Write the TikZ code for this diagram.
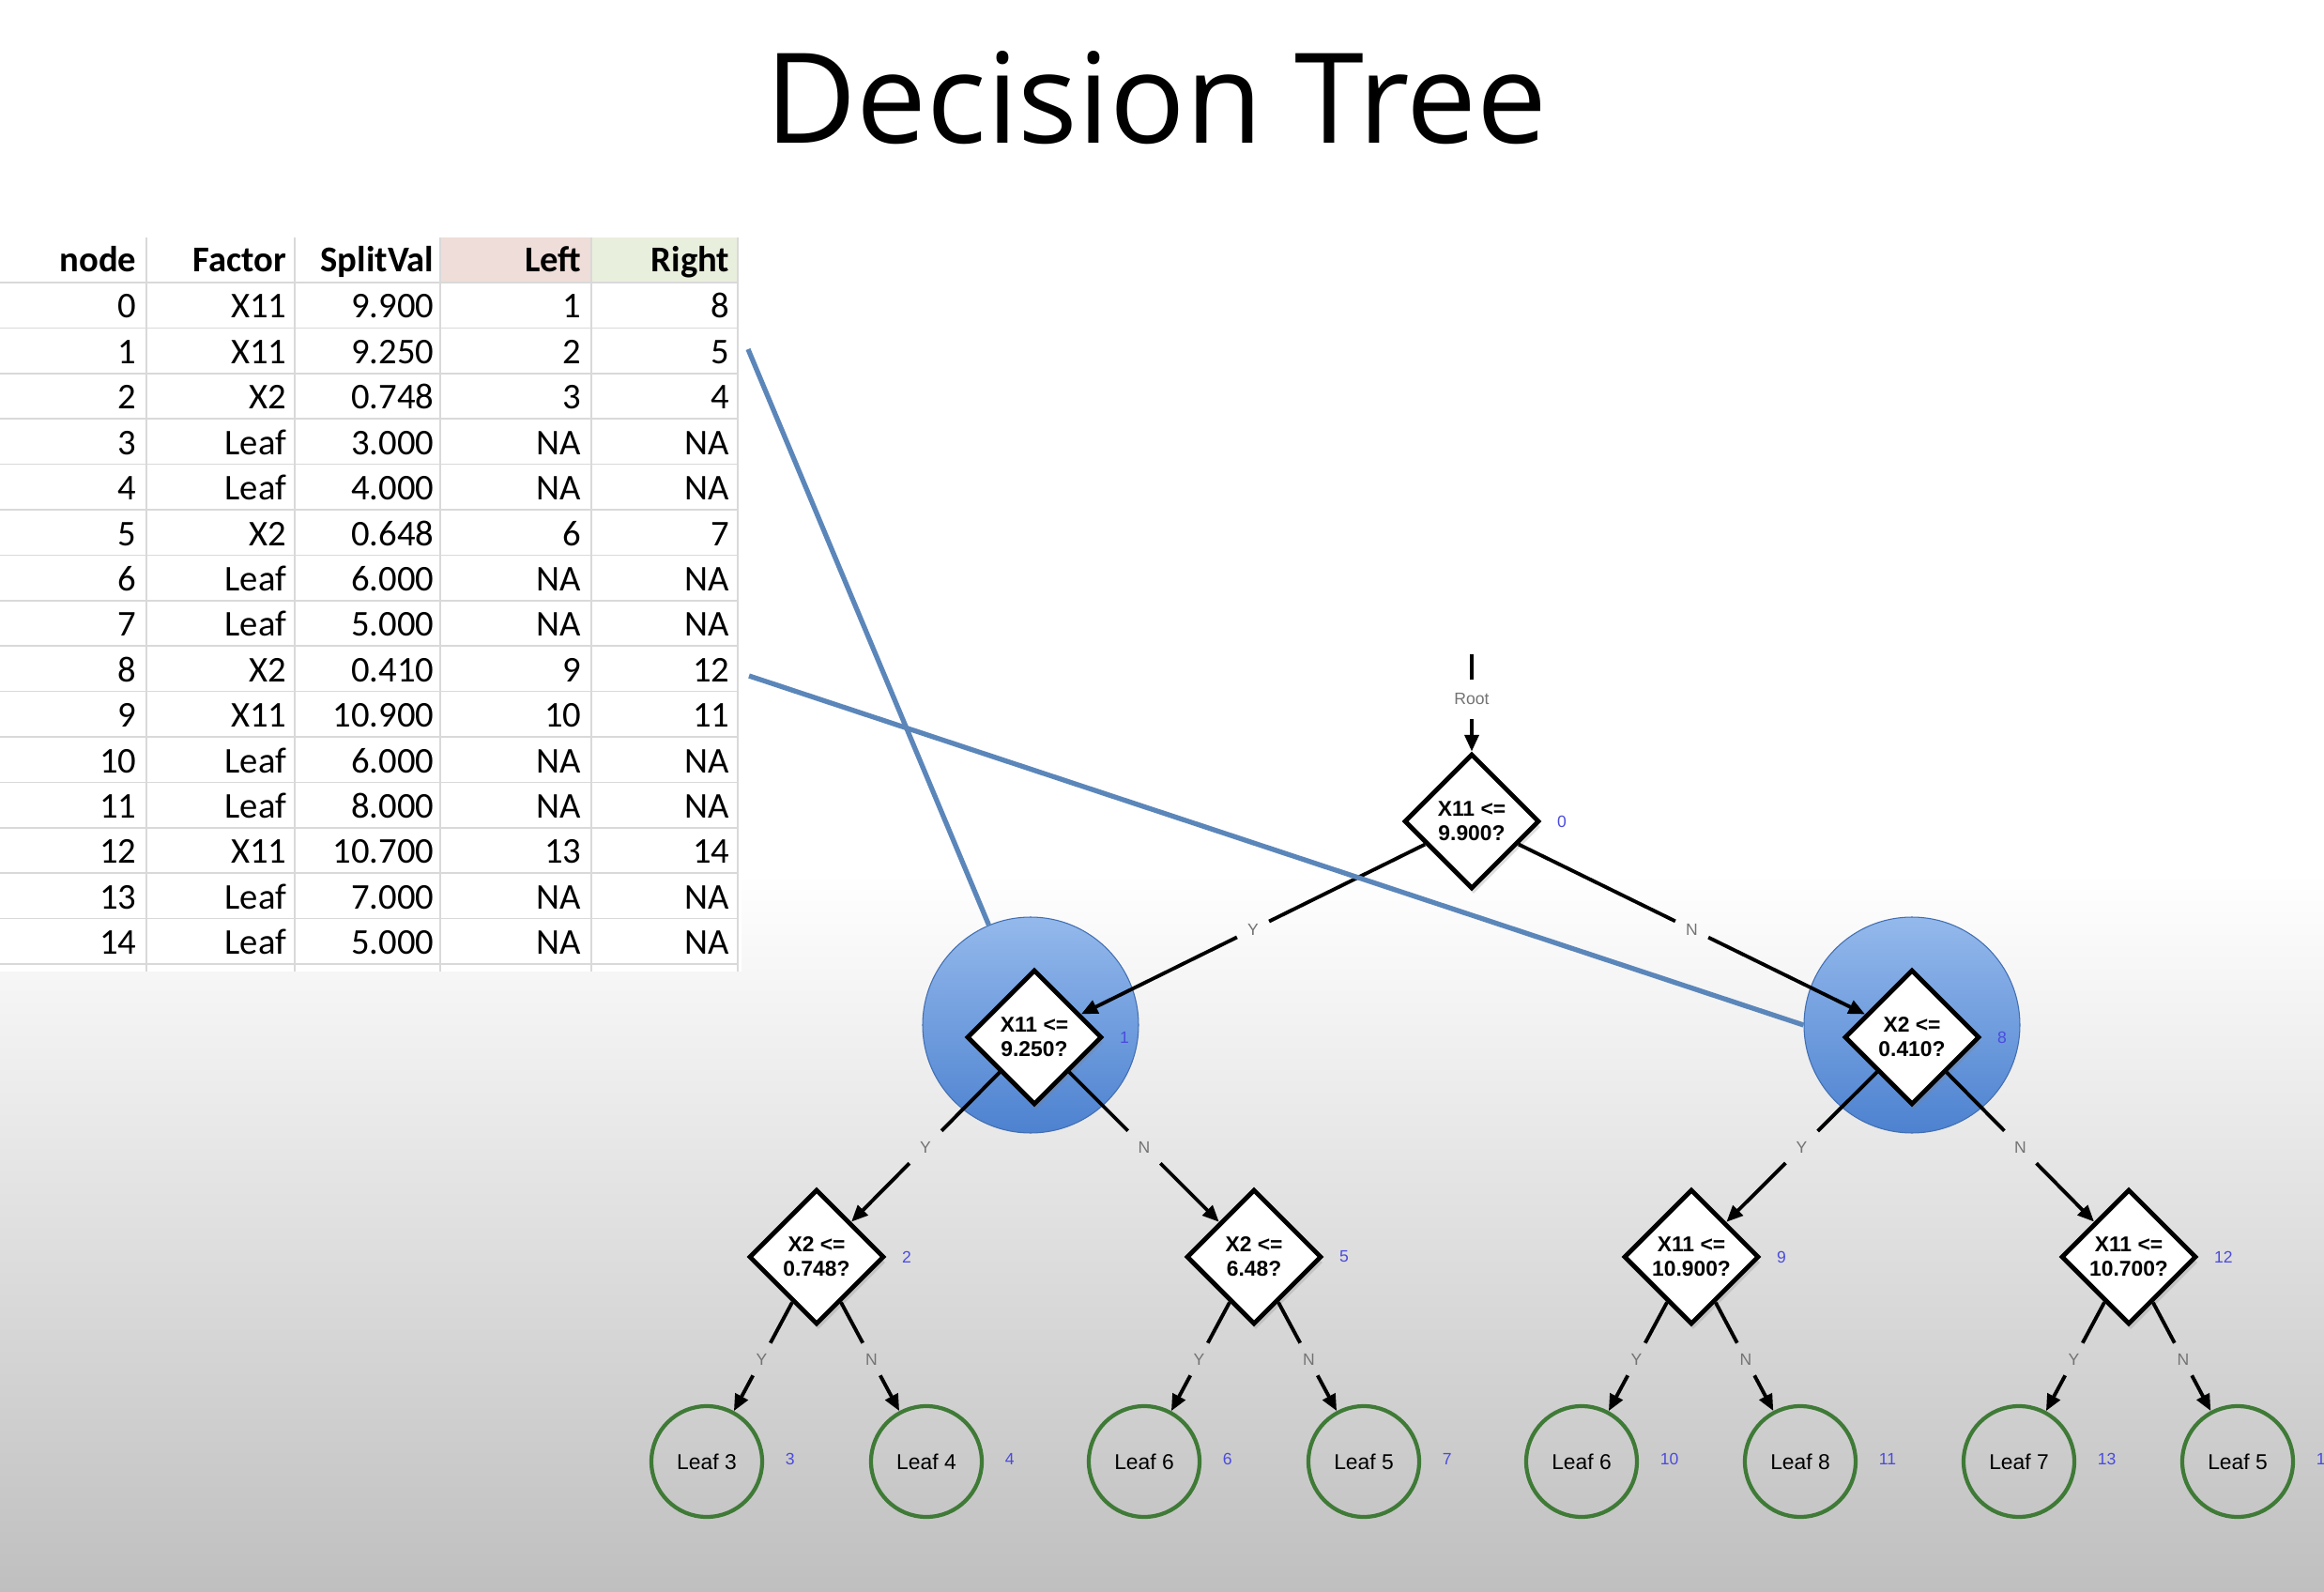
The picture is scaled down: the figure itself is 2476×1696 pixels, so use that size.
\documentclass[tikz,border=0pt]{standalone}
\usepackage{fontspec}
\usetikzlibrary{arrows.meta,shapes.geometric,calc,shadows}
\newfontfamily\titlefont{Open Sans}
\newfontfamily\tabfont{Carlito}
\newfontfamily\treefont{Liberation Sans}
\definecolor{gridgray}{HTML}{D9D9D9}
\definecolor{leftfill}{HTML}{EEDDD8}
\definecolor{rightfill}{HTML}{E9EFDD}
\definecolor{linkblue}{HTML}{5B86BA}
\definecolor{leafgreen}{HTML}{3F7A37}
\definecolor{idblue}{HTML}{4B4BDD}
\definecolor{bgbottom}{HTML}{BFBFBF}
\definecolor{ballTop}{HTML}{94B9EC}
\definecolor{ballBottom}{HTML}{4D82D0}
\tikzset{
  cell/.style={anchor=base east, inner sep=0, font=\tabfont\fontsize{11}{13}\selectfont},
  hcell/.style={cell, font=\tabfont\bfseries\fontsize{11}{13}\selectfont},
  gridline/.style={gridgray, line width=0.5pt},
  test/.style={diamond, draw=black, line width=1.4pt, fill=white,
    minimum width=14.4mm, minimum height=14.4mm, inner sep=0, align=center,
    font=\treefont\bfseries\fontsize{6.5}{7.4}\selectfont,
    drop shadow={shadow xshift=0.2mm, shadow yshift=-0.6mm, opacity=0.25}},
  leaf/.style={circle, draw=leafgreen, line width=1.2pt, minimum size=11.8mm,
    inner sep=0, font=\treefont\fontsize{6.5}{7.5}\selectfont},
  focus/.style={circle, minimum size=23mm, inner sep=0, top color=ballTop,
    bottom color=ballBottom, draw=ballBottom!85!black, line width=0.3pt},
  branch/.style={inner sep=3pt, font=\treefont\fontsize{5}{6}\selectfont, text=black!55},
  nodeid/.style={inner sep=0, anchor=west, font=\treefont\fontsize{5}{6}\selectfont, text=idblue},
  edge/.style={line width=1.1pt, black},
  arrowedge/.style={edge, -{Triangle[length=5pt,width=4.2pt]}},
  link/.style={line width=1.5pt, linkblue},
}
\begin{document}
\begin{tikzpicture}[x=0.1mm, y=-0.1mm]
\useasboundingbox (0,0) rectangle (2476,1696);
% background: white top, grey fade towards the bottom
\fill[white] (0,0) rectangle (2476,1696);
\shade[top color=white, bottom color=bgbottom] (0,930) rectangle (2476,1697);

% title
\node[font=\titlefont\fontsize{38}{40}\selectfont, anchor=base, inner sep=0] (title) at (1232,153) {Decision Tree};

% ---- table ----
\fill[white] (0,245) rectangle (790,1035);
\fill[leftfill] (470,253) rectangle (630,300);
\fill[rightfill] (630,253) rectangle (786,300);
\foreach \k in {0,...,15} \draw[gridline] (0,{301+48.4*\k}) -- (786,{301+48.4*\k});
\foreach \x in {156,314,469,630,786} \draw[gridline] (\x,253) -- (\x,1035);
\node[hcell] (hn) at (146,290) {node};
\node[hcell] (hf) at (306,290) {Factor};
\node[hcell] (hs) at (463,290) {SplitVal};
\node[hcell] (hl) at (620,290) {Left};
\node[hcell] (hr) at (778,290) {Right};
\foreach \a/\b/\c/\d/\e [count=\k from 0] in {
  0/X11/9.900/1/8, 1/X11/9.250/2/5, 2/X2/0.748/3/4, 3/Leaf/3.000/NA/NA,
  4/Leaf/4.000/NA/NA, 5/X2/0.648/6/7, 6/Leaf/6.000/NA/NA, 7/Leaf/5.000/NA/NA,
  8/X2/0.410/9/12, 9/X11/10.900/10/11, 10/Leaf/6.000/NA/NA, 11/Leaf/8.000/NA/NA,
  12/X11/10.700/13/14, 13/Leaf/7.000/NA/NA, 14/Leaf/5.000/NA/NA} {
  \pgfmathsetmacro\yb{339+48.4*\k}
  \node[cell] (tn\k) at (146,\yb) {\a};
  \node[cell] (tf\k) at (306,\yb) {\b};
  \node[cell] (ts\k) at (463,\yb) {\c};
  \node[cell] (tl\k) at (620,\yb) {\d};
  \node[cell] (tr\k) at (778,\yb) {\e};
}

% ---- tree ----
\node[focus] (c1) at (1098,1092) {};
\node[focus] (c8) at (2037,1092) {};

\node[test] (d0) at (1568,875) {X11 <=\\9.900?};
\node[test] (d1) at (1102,1105) {X11 <=\\9.250?};
\node[test] (d8) at (2037,1105) {X2 <=\\0.410?};
\node[test] (d2) at (870,1339) {X2 <=\\0.748?};
\node[test] (d5) at (1336,1339) {X2 <=\\6.48?};
\node[test] (d9) at (1802,1339) {X11 <=\\10.900?};
\node[test] (d12) at (2268,1339) {X11 <=\\10.700?};

\node[leaf] (l3) at (753,1557) {Leaf 3};
\node[leaf] (l4) at (987,1557) {Leaf 4};
\node[leaf] (l6) at (1219,1557) {Leaf 6};
\node[leaf] (l7) at (1453,1557) {Leaf 5};
\node[leaf] (l10) at (1685,1557) {Leaf 6};
\node[leaf] (l11) at (1918,1557) {Leaf 8};
\node[leaf] (l13) at (2151,1557) {Leaf 7};
\node[leaf] (l14) at (2384,1557) {Leaf 5};

% node ids
\foreach \n/\t in {d0/0, d1/1, d8/8, d2/2, d5/5, d9/9, d12/12}
  \node[nodeid] (id-\n) at ($(\n.east)+(16,0)$) {\t};
\foreach \n/\t in {l3/3, l4/4, l6/6, l7/7, l10/10, l11/11, l13/13, l14/14}
  \node[nodeid] (id-\n) at ($(\n.east)+(22,-3)$) {\t};

% root entry
\coordinate (rtop) at (1568,697);
\node[branch, inner ysep=4pt] (rootlbl) at (1568,745) {Root};
\draw[edge] (rtop) -- (rootlbl);
\draw[arrowedge] (rootlbl) -- (d0);

% branches with Y / N labels
\foreach \p/\c/\t in {d0/d1/Y, d0/d8/N, d1/d2/Y, d1/d5/N, d8/d9/Y, d8/d12/N,
  d2/l3/Y, d2/l4/N, d5/l6/Y, d5/l7/N, d9/l10/Y, d9/l11/N, d12/l13/Y, d12/l14/N} {
  \node[branch] (b-\c) at ($(\p)!0.5!(\c)$) {\t};
  \draw[edge] (\p) -- (b-\c);
  \draw[arrowedge] (b-\c) -- (\c);
}

% table rows linked to their tree nodes
\coordinate (a1) at (797,372);
\coordinate (a8) at (798,720);
\draw[link] (a1) -- (c1);
\draw[link] (a8) -- (c8.west);
\end{tikzpicture}
\end{document}
